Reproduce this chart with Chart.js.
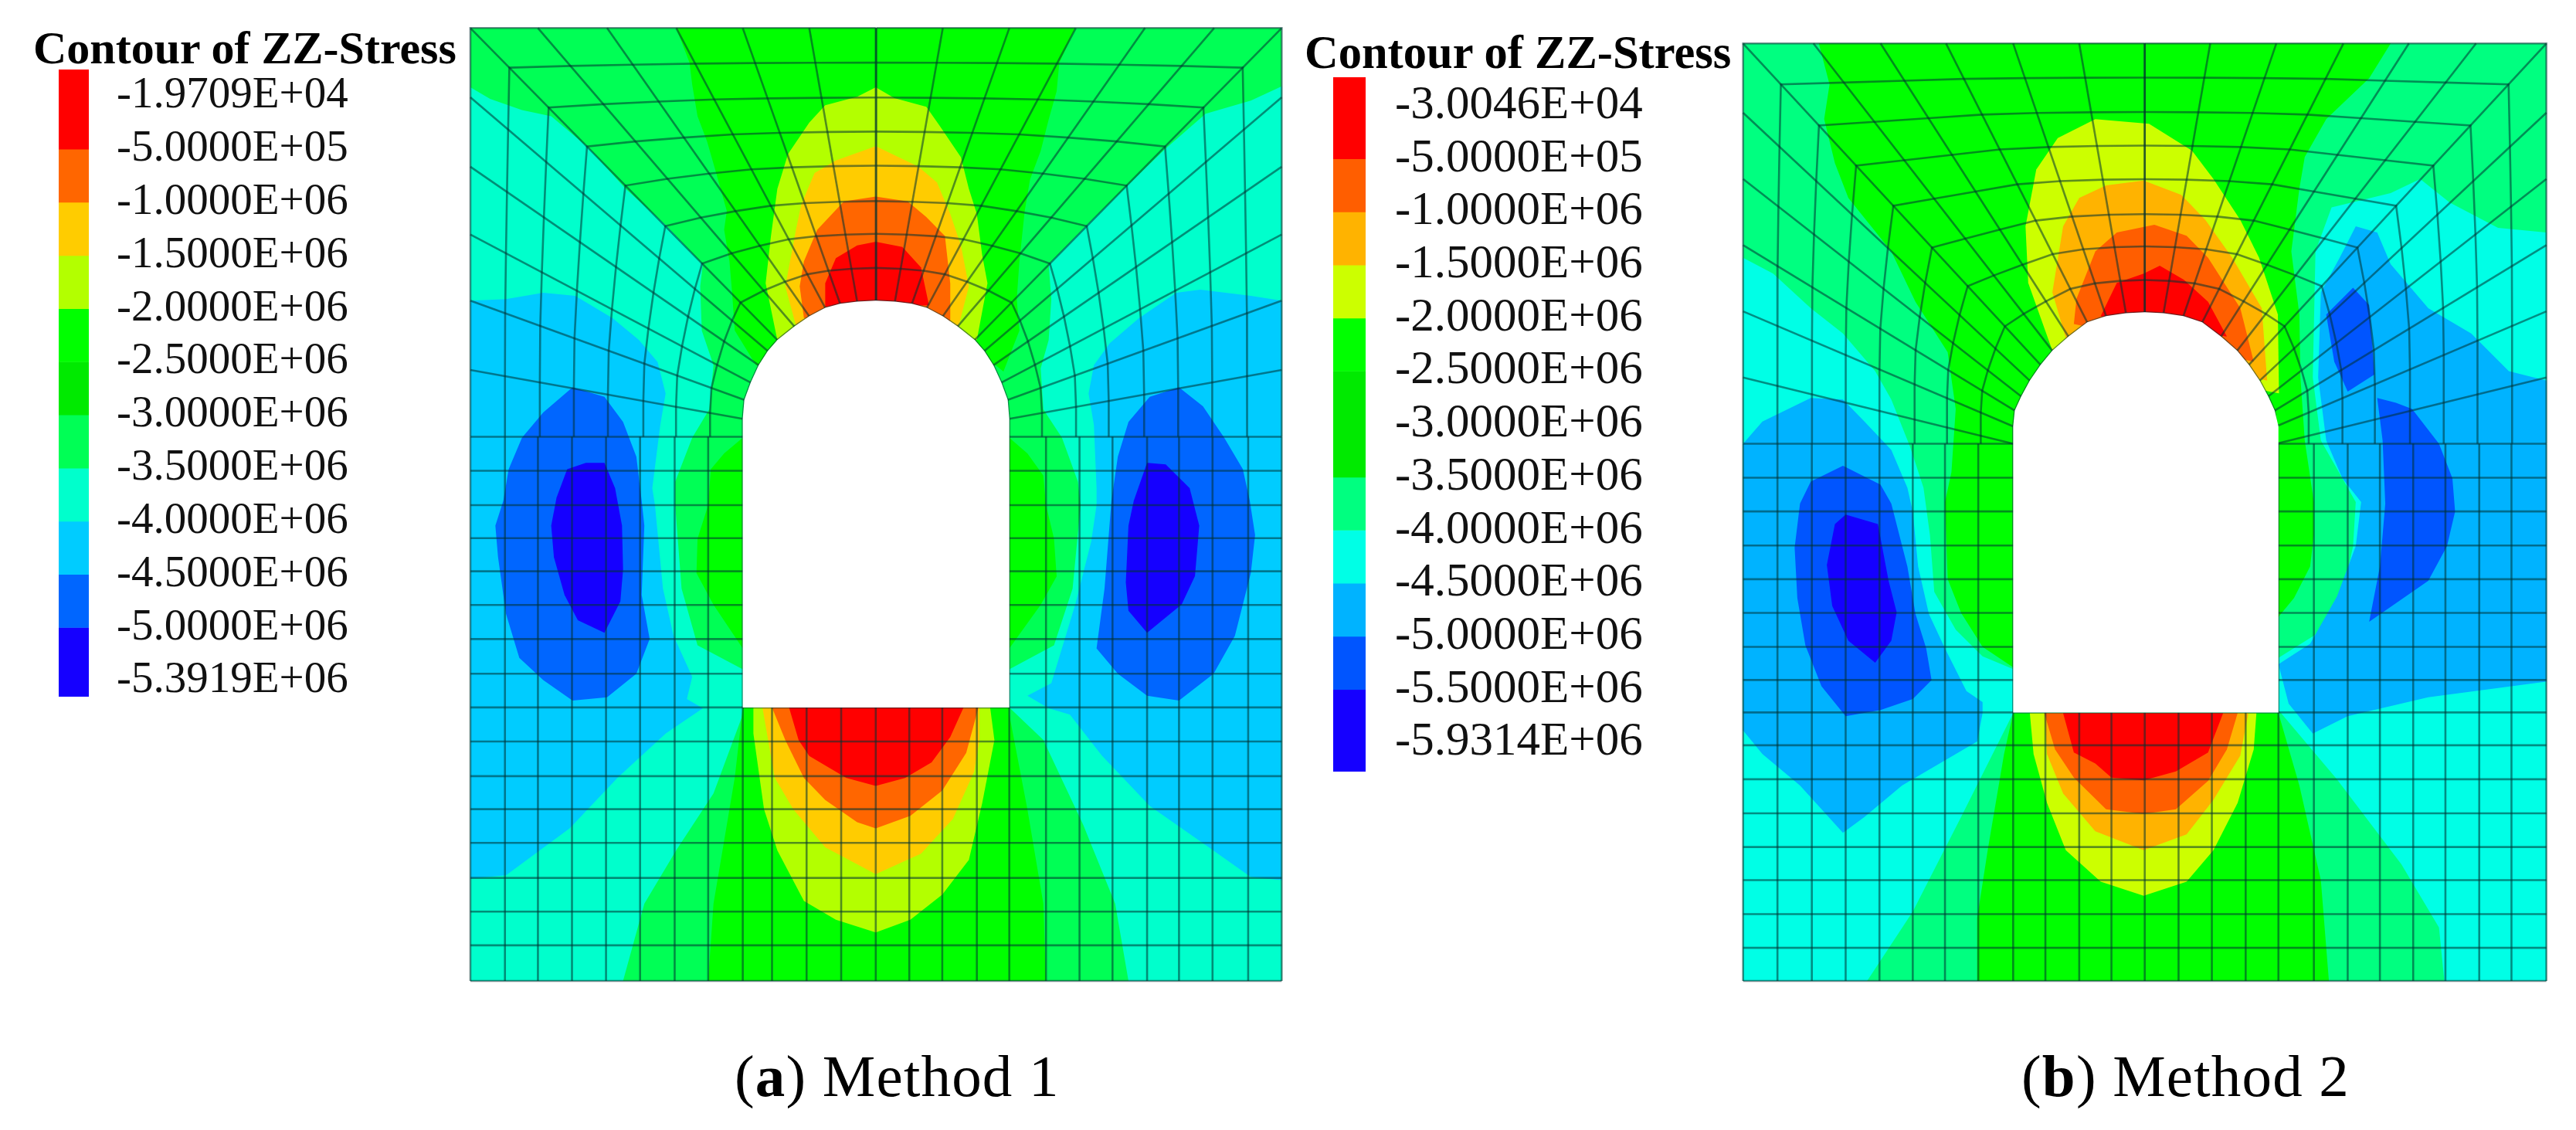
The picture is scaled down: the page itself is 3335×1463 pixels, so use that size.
<!DOCTYPE html>
<html>
<head>
<meta charset="utf-8">
<title>Contour of ZZ-Stress</title>
<script src="https://cdn.jsdelivr.net/npm/chart.js@4"></script>
<style>
html, body { margin: 0; padding: 0; background: #fff; }
body { position: relative; width: 3335px; height: 1463px; overflow: hidden; font-family: "Liberation Serif", serif; color: #000; }
canvas, .txt { position: absolute; }
.txt { line-height: 1; white-space: nowrap; }
#panelA { left: 600px; top: 20px; }
#panelB { left: 2240px; top: 40px; }
#legendA { left: 76px; top: 90px; }
#legendB { left: 1726px; top: 100px; }
.legendTitle { font-weight: bold; }
#titleA { left: 43px; top: 32px; font-size: 60px; }
#titleB { left: 1689px; top: 38px; font-size: 60.5px; }
.caption { font-size: 77px; letter-spacing: 1.2px; }
#capA { left: 951px; top: 1355px; }
#capB { left: 2617px; top: 1355px; }
</style>
</head>
<body>
<div class="txt legendTitle" id="titleA">Contour of ZZ-Stress</div>
<div class="txt legendTitle" id="titleB">Contour of ZZ-Stress</div>
<canvas id="legendA" width="400" height="812"></canvas>
<canvas id="legendB" width="420" height="899"></canvas>
<canvas id="panelA" width="1080" height="1270"></canvas>
<canvas id="panelB" width="1090" height="1250"></canvas>
<div class="txt caption" id="capA">(<b>a</b>) Method 1</div>
<div class="txt caption" id="capB">(<b>b</b>) Method 2</div>
<script>
// legend tick labels
const labelsA = ['-1.9709E+04', '-5.0000E+05', '-1.0000E+06', '-1.5000E+06', '-2.0000E+06', '-2.5000E+06',
    '-3.0000E+06', '-3.5000E+06', '-4.0000E+06', '-4.5000E+06', '-5.0000E+06', '-5.3919E+06'];
const labelsB = ['-3.0046E+04', '-5.0000E+05', '-1.0000E+06', '-1.5000E+06', '-2.0000E+06', '-2.5000E+06',
    '-3.0000E+06', '-3.5000E+06', '-4.0000E+06', '-4.5000E+06', '-5.0000E+06', '-5.5000E+06', '-5.9314E+06'];

// legend cell edges, counted in label rows
const cellEdgesA = [-0.5, 1, 2, 3, 4, 5, 6, 7, 8, 9, 10, 11.3];
const cellEdgesB = [-0.54, 1, 2, 3, 4, 5, 7, 8, 9, 10, 11, 12.55];
const cellColorsA = ['#ff0000', '#ff6600', '#ffcc00', '#b3ff00', '#00ff00', '#00ea00', '#00ff55', '#00ffcc', '#00ccff', '#0066ff', '#1500ff'];
const cellColorsB = ['#ff0000', '#ff5e00', '#ffb300', '#ccff00', '#00ff00', '#00ea00', '#00ff80', '#00ffe6', '#00b3ff', '#0055ff', '#1500ff'];

// mesh of panel a (model units, y grows downward)
const ringFractions = [0, 0.127, 0.255, 0.38, 0.505, 0.635, 0.755, 0.88, 1];
const outerNodesA = [[775, 40], [650, 40], [525, 40], [400, 40], [270, 40], [140, 40], [13, 40], [13, 260], [13, 480], [13, 695], [13, 905], [13, 1125], [13, 1337]];
const archNodesA = [[775, 905], [740, 908], [708, 915], [680, 928], [650, 955], [622, 987], [590, 1030], [572, 1065], [555, 1110], [540, 1165], [528, 1220], [525, 1280], [525, 1337]];
const sideColsA = [13, 78, 140, 204, 268, 332, 397, 460, 525, 1026, 1095, 1158, 1220, 1285, 1345, 1408, 1475, 1538];
const floorColsA = [580, 645, 710, 775, 838, 900, 965];
const rowsA = [1337, 1445, 1554, 1659, 1764, 1871, 1979, 2089, 2196, 2304, 2414, 2519, 2626, 2737, 2844, 2951, 3064];

// mesh of panel b
const outerNodesB = [[772, 40], [650, 40], [527, 40], [402, 40], [280, 40], [155, 40], [24, 40], [24, 260], [24, 470], [24, 680], [24, 890], [24, 1100], [24, 1310]];
const archNodesB = [[772, 893], [737, 896], [700, 905], [665, 925], [630, 970], [600, 1015], [578, 1060], [558, 1110], [542, 1160], [530, 1205], [527, 1255], [527, 1310], [527, 1310]];
const sideColsB = [24, 88, 152, 215, 278, 340, 400, 462, 527, 1021, 1087, 1150, 1210, 1272, 1332, 1395, 1455, 1520];
const floorColsB = [587, 650, 710, 772, 835, 897, 960];
const rowsB = [1310, 1418, 1525, 1633, 1740, 1847, 1955, 2060, 2163, 2267, 2375, 2483, 2590, 2695, 2803, 2910, 3015];

// contour bands of panel a
const frameA = [[13, 40], [1538, 40], [1538, 3064], [13, 3064]];
const tunnelA = [[775, 905], [740, 908], [708, 915], [680, 928], [650, 955], [622, 987], [590, 1030], [572, 1065], [555, 1110], [540, 1165], [528, 1220], [525, 1280], [525, 2196], [1026, 2196], [1026, 1280], [1023, 1220], [1011, 1165], [996, 1110], [979, 1065], [961, 1030], [929, 987], [901, 955], [871, 928], [843, 915], [811, 908]];
const aquaLeftA = [[13, 228], [50, 265], [110, 300], [165, 320], [235, 420], [305, 550], [380, 665], [450, 790], [445, 860], [448, 1000], [470, 1110], [462, 1250], [430, 1340], [398, 1480], [398, 1554], [410, 1819], [440, 1999], [525, 2075], [525, 2219], [470, 2469], [400, 2649], [340, 2819], [300, 3064], [13, 3064]];
const aquaRightA = [[1538, 225], [1480, 270], [1395, 312], [1318, 425], [1245, 545], [1172, 665], [1100, 790], [1105, 900], [1100, 1030], [1085, 1120], [1090, 1250], [1125, 1340], [1155, 1480], [1160, 1554], [1145, 1819], [1110, 1999], [1026, 2075], [1026, 2196], [1090, 2299], [1165, 2569], [1225, 2819], [1250, 3064], [1538, 3064]];
const skyLeftA = [[13, 905], [80, 900], [150, 880], [210, 890], [280, 960], [330, 1030], [365, 1100], [380, 1200], [370, 1300], [355, 1500], [360, 1554], [375, 1819], [395, 1969], [430, 2099], [420, 2169], [450, 2199], [380, 2279], [290, 2419], [200, 2579], [80, 2729], [13, 2739]];
const skyRightA = [[1538, 905], [1480, 890], [1385, 870], [1340, 880], [1270, 960], [1215, 1040], [1185, 1110], [1175, 1200], [1185, 1300], [1190, 1500], [1190, 1554], [1180, 1669], [1150, 1869], [1105, 2119], [1060, 2159], [1100, 2199], [1140, 2219], [1200, 2349], [1290, 2509], [1400, 2639], [1480, 2734], [1538, 2744]];
const blueLeftA = [[205, 1180], [265, 1210], [300, 1290], [325, 1400], [335, 1540], [340, 1619], [335, 1839], [350, 1979], [325, 2089], [270, 2164], [205, 2174], [150, 2109], [105, 2039], [80, 1899], [65, 1719], [60, 1619], [75, 1540], [85, 1440], [110, 1340], [150, 1260]];
const blueRightA = [[1345, 1180], [1290, 1210], [1250, 1290], [1230, 1400], [1218, 1540], [1205, 1819], [1190, 2009], [1230, 2089], [1285, 2159], [1345, 2174], [1410, 2089], [1450, 1969], [1480, 1769], [1488, 1649], [1478, 1540], [1465, 1440], [1430, 1340], [1390, 1240]];
const deepLeftA = [[230, 1420], [265, 1420], [285, 1500], [298, 1619], [300, 1759], [295, 1859], [265, 1959], [215, 1919], [190, 1839], [170, 1719], [165, 1619], [175, 1530], [195, 1440]];
const deepRightA = [[1285, 1420], [1320, 1425], [1365, 1500], [1383, 1619], [1375, 1779], [1350, 1869], [1285, 1959], [1250, 1889], [1245, 1799], [1250, 1619], [1260, 1540]];
const greenTopA = [[400, 40], [425, 150], [430, 220], [440, 320], [458, 400], [475, 500], [495, 620], [490, 680], [500, 780], [505, 880], [510, 1000], [550, 1110], [1000, 1110], [1015, 1130], [1045, 1000], [1040, 900], [1045, 780], [1055, 620], [1065, 520], [1085, 430], [1100, 330], [1115, 240], [1120, 150], [1150, 40]];
const greenWallLeftA = [[525, 1340], [490, 1390], [465, 1440], [460, 1554], [440, 1660], [438, 1770], [470, 1870], [525, 2009]];
const greenWallRightA = [[1026, 1340], [1060, 1390], [1090, 1460], [1095, 1554], [1110, 1660], [1115, 1780], [1085, 1870], [1026, 2009]];
const limeTopA = [[775, 228], [810, 262], [870, 290], [895, 350], [935, 450], [950, 550], [965, 630], [975, 760], [985, 850], [965, 1030], [590, 1030], [568, 850], [578, 700], [590, 550], [610, 440], [650, 340], [680, 285], [740, 258]];
const goldTopA = [[775, 415], [855, 480], [890, 530], [915, 630], [935, 730], [950, 860], [930, 990], [625, 985], [605, 860], [625, 680], [635, 600], [660, 500], [700, 460]];
const orangeTopA = [[775, 575], [835, 590], [870, 640], [905, 700], [915, 850], [915, 970], [640, 960], [632, 860], [640, 780], [665, 680], [715, 590]];
const redTopA = [[775, 718], [825, 735], [860, 800], [875, 920], [680, 925], [680, 850], [700, 770], [740, 730]];
const greenFloorA = [[525, 2196], [510, 2419], [490, 2619], [470, 2819], [460, 3064], [1095, 3064], [1090, 2819], [1060, 2519], [1026, 2219], [1026, 2196]];
const limeFloorA = [[545, 2196], [545, 2279], [565, 2519], [590, 2650], [640, 2810], [700, 2870], [775, 2910], [840, 2870], [900, 2790], [950, 2680], [975, 2500], [998, 2300], [990, 2196]];
const goldFloorA = [[562, 2196], [585, 2419], [620, 2519], [680, 2640], [775, 2725], [860, 2660], [920, 2550], [960, 2400], [970, 2300], [970, 2196]];
const orangeFloorA = [[580, 2196], [605, 2300], [640, 2420], [680, 2490], [740, 2560], [775, 2580], [840, 2540], [900, 2460], [945, 2340], [968, 2196]];
const redFloorA = [[612, 2196], [630, 2300], [650, 2350], [680, 2380], [720, 2420], [775, 2445], [830, 2420], [880, 2370], [915, 2290], [940, 2196]];

// contour bands of panel b
const frameB = [[24, 40], [1520, 40], [1520, 3015], [24, 3015]];
const tunnelB = [[772, 893], [737, 896], [700, 905], [665, 925], [630, 970], [600, 1015], [578, 1060], [558, 1110], [542, 1160], [530, 1205], [527, 1255], [527, 2163], [1021, 2163], [1021, 1255], [1014, 1205], [1002, 1160], [986, 1110], [966, 1060], [944, 1015], [914, 970], [879, 925], [844, 905], [807, 896]];
const aquaLeftB = [[24, 720], [80, 770], [150, 880], [210, 960], [270, 1080], [300, 1170], [335, 1320], [360, 1450], [372, 1600], [380, 1780], [420, 1900], [470, 1985], [527, 2025], [527, 2165], [430, 2495], [340, 2795], [255, 3015], [24, 3015]];
const aquaRightB = [[1520, 640], [1430, 625], [1340, 545], [1285, 470], [1230, 515], [1120, 560], [1090, 700], [1085, 1100], [1100, 1300], [1140, 1420], [1165, 1495], [1160, 1635], [1140, 1795], [1110, 1895], [1021, 1990], [1021, 2155], [1130, 2375], [1250, 2645], [1320, 2845], [1330, 3015], [1520, 3015]];
const skyLeftB = [[24, 1310], [60, 1240], [150, 1165], [210, 1170], [250, 1240], [300, 1330], [330, 1450], [340, 1525], [350, 1700], [370, 1850], [400, 1960], [440, 2095], [470, 2130], [470, 2165], [460, 2255], [320, 2395], [250, 2495], [210, 2545], [130, 2395], [60, 2295], [24, 2220]];
const skyRightB = [[1165, 620], [1205, 640], [1230, 740], [1300, 880], [1380, 960], [1450, 1080], [1520, 1110], [1520, 2065], [1300, 2115], [1150, 2175], [1085, 2230], [1040, 2135], [1021, 2010], [1080, 1945], [1130, 1795], [1165, 1635], [1175, 1495], [1140, 1420], [1110, 1300], [1095, 1100], [1100, 830], [1135, 720]];
const blueLeftB = [[210, 1380], [280, 1440], [300, 1500], [330, 1700], [345, 1850], [365, 1960], [375, 2060], [340, 2120], [280, 2155], [215, 2175], [170, 2080], [140, 1950], [125, 1800], [120, 1640], [130, 1500], [150, 1430]];
const bluePatchB = [[1160, 815], [1190, 870], [1200, 1090], [1150, 1145], [1125, 1050], [1110, 900]];
const blueRightB = [[1240, 1180], [1270, 1200], [1320, 1310], [1345, 1420], [1350, 1525], [1335, 1635], [1300, 1745], [1190, 1875], [1210, 1700], [1220, 1500], [1215, 1300], [1205, 1165]];
const deepLeftB = [[215, 1535], [275, 1565], [295, 1745], [310, 1845], [300, 1935], [270, 2005], [220, 1935], [190, 1825], [180, 1695], [195, 1565]];
const greenTopB = [[165, 40], [185, 170], [175, 280], [195, 420], [220, 530], [300, 700], [345, 860], [405, 1020], [420, 1200], [412, 1400], [400, 1495], [405, 1740], [430, 1847], [470, 1955], [527, 2020], [1021, 1860], [1050, 1800], [1080, 1700], [1087, 1600], [1087, 1495], [1070, 1300], [1062, 1100], [1060, 900], [1045, 700], [1060, 500], [1070, 400], [1110, 280], [1190, 150], [1230, 40]];
const limeTopB = [[680, 280], [780, 295], [860, 380], [900, 470], [950, 600], [985, 720], [1020, 900], [1022, 1150], [600, 1015], [555, 800], [550, 620], [570, 440], [610, 340]];
const goldTopB = [[770, 475], [840, 520], [885, 600], [935, 720], [990, 880], [1000, 1110], [625, 975], [600, 830], [620, 620], [650, 530], [700, 490]];
const orangeTopB = [[790, 615], [850, 650], [890, 720], [950, 880], [975, 1050], [640, 930], [645, 850], [680, 700], [720, 640]];
const redTopB = [[800, 745], [845, 790], [890, 860], [925, 970], [690, 905], [720, 800], [770, 770]];
const greenFloorB = [[527, 2165], [510, 2295], [480, 2595], [460, 2815], [460, 3015], [1115, 3015], [1100, 2695], [1060, 2395], [1021, 2165]];
const limeFloorB = [[558, 2165], [565, 2295], [590, 2450], [625, 2600], [690, 2700], [770, 2745], [850, 2700], [900, 2600], [945, 2450], [975, 2280], [980, 2165]];
const goldFloorB = [[585, 2165], [590, 2295], [620, 2420], [680, 2540], [770, 2600], [850, 2550], [900, 2440], [950, 2300], [965, 2165]];
const orangeFloorB = [[585, 2165], [605, 2280], [640, 2370], [700, 2470], [770, 2485], [830, 2470], [890, 2380], [925, 2280], [945, 2165]];
const redFloorB = [[620, 2165], [640, 2290], [680, 2325], [710, 2370], [770, 2378], [830, 2350], [890, 2290], [918, 2165]];

const SERIF = '"Liberation Serif", serif';
const MESH_COLOR = 'rgba(0, 50, 50, 0.55)';

const pts = arr => arr.map(p => ({ x: p[0], y: p[1] }));

function band(points, color) {
    return { data: pts(points), showLine: false, pointRadius: 0, bandColor: color };
}

function meshLine(points) {
    return { data: pts(points), showLine: true, pointRadius: 0, borderColor: MESH_COLOR, borderWidth: 2.6, fill: false, tension: 0 };
}

// O-grid round the arch + regular grid below it
function meshDatasets(outer, arch, centre, sideCols, floorCols, rows) {
    const lines = [];
    const flip = p => [centre * 2 - p[0], p[1]];
    const at = (a, b, f) => [a[0] + (b[0] - a[0]) * f, a[1] + (b[1] - a[1]) * f];

    [false, true].forEach(mirror => {
        const o = mirror ? outer.map(flip) : outer;
        const a = mirror ? arch.map(flip) : arch;
        // last spoke lies on the first grid row, which is drawn below
        o.slice(0, -1).forEach((p, i) => lines.push(meshLine([p, a[i]])));
        ringFractions.forEach(f => lines.push(meshLine(o.map((p, i) => at(p, a[i], f)))));
    });

    const top = rows[0], bottom = rows[rows.length - 1];
    const floorTop = rows[8];
    sideCols.forEach(x => lines.push(meshLine([[x, top], [x, bottom]])));
    floorCols.forEach(x => lines.push(meshLine([[x, floorTop], [x, bottom]])));
    rows.forEach(y => lines.push(meshLine([[sideCols[0], y], [sideCols[sideCols.length - 1], y]])));
    return lines;
}

// fills the closed outline of a dataset from the points the scales placed
const bandFill = {
    id: 'bandFill',
    beforeDatasetDraw(chart, args) {
        const ds = chart.data.datasets[args.index];
        if (!ds.bandColor) return;
        const points = args.meta.data;
        const ctx = chart.ctx;
        ctx.save();
        ctx.beginPath();
        points.forEach((p, i) => i ? ctx.lineTo(p.x, p.y) : ctx.moveTo(p.x, p.y));
        ctx.closePath();
        ctx.fillStyle = ds.bandColor;
        ctx.fill();
        ctx.restore();
    }
};

function drawPanel(id, yMax, datasets) {
    // chart.js paints the last dataset first, so flip the order
    datasets.forEach((d, i) => { d.order = -i; d.clip = false; });
    new Chart(document.getElementById(id), {
        type: 'scatter',
        data: { datasets },
        options: {
            responsive: false,
            animation: false,
            plugins: { legend: { display: false }, tooltip: { enabled: false } },
            scales: {
                x: { type: 'linear', display: false, min: 0, max: 1568 },
                y: { type: 'linear', display: false, min: 0, max: yMax, reverse: true }
            }
        },
        plugins: [bandFill]
    });
}

function drawLegend(id, labels, edges, colors, fontSize, barWidth, gap) {
    const canvas = document.getElementById(id);
    new Chart(canvas, {
        type: 'bar',
        data: {
            labels: ['stress'],
            datasets: colors.map((c, i) => ({
                data: [[edges[i], edges[i + 1]]],
                backgroundColor: c,
                grouped: false,
                barPercentage: 1,
                categoryPercentage: 1
            }))
        },
        options: {
            responsive: false,
            animation: false,
            plugins: { legend: { display: false }, tooltip: { enabled: false } },
            scales: {
                x: { display: false },
                y: {
                    type: 'linear',
                    position: 'right',
                    reverse: true,
                    min: edges[0],
                    max: edges[edges.length - 1],
                    grid: { display: false },
                    border: { display: false },
                    afterBuildTicks: s => { s.ticks = labels.map((_, i) => ({ value: i })); },
                    afterFit: s => {
                        // bar has to fill the canvas height, labels stay inside anyway
                        s.width = canvas.width - barWidth;
                        s.paddingTop = 0;
                        s.paddingBottom = 0;
                    },
                    ticks: {
                        autoSkip: false,
                        padding: gap,
                        color: '#111',
                        font: { family: SERIF, size: fontSize },
                        callback: (v, i) => labels[i]
                    }
                }
            }
        }
    });
}

drawLegend('legendA', labelsA, cellEdgesA, cellColorsA, 57, 39, 28);
drawLegend('legendB', labelsB, cellEdgesB, cellColorsB, 61, 42, 30);

const cA = cellColorsA, cB = cellColorsB;
drawPanel('panelA', 3113, [
    band(frameA, cA[6]),
    band(aquaLeftA, cA[7]), band(aquaRightA, cA[7]),
    band(skyLeftA, cA[8]), band(skyRightA, cA[8]),
    band(blueLeftA, cA[9]), band(blueRightA, cA[9]),
    band(deepLeftA, cA[10]), band(deepRightA, cA[10]),
    band(greenTopA, cA[4]), band(greenWallLeftA, cA[4]), band(greenWallRightA, cA[4]), band(greenFloorA, cA[4]),
    band(limeTopA, cA[3]), band(limeFloorA, cA[3]),
    band(goldTopA, cA[2]), band(goldFloorA, cA[2]),
    band(orangeTopA, cA[1]), band(orangeFloorA, cA[1]),
    band(redTopA, cA[0]), band(redFloorA, cA[0]),
    ...meshDatasets(outerNodesA, archNodesA, 775.5, sideColsA, floorColsA, rowsA),
    band(tunnelA, '#ffffff')
]);
drawPanel('panelB', 3064, [
    band(frameB, cB[6]),
    band(aquaLeftB, cB[7]), band(aquaRightB, cB[7]),
    band(skyLeftB, cB[8]), band(skyRightB, cB[8]),
    band(blueLeftB, cB[9]), band(bluePatchB, cB[9]), band(blueRightB, cB[9]),
    band(deepLeftB, cB[10]),
    band(greenTopB, cB[4]), band(greenFloorB, cB[4]),
    band(limeTopB, cB[3]), band(limeFloorB, cB[3]),
    band(goldTopB, cB[2]), band(goldFloorB, cB[2]),
    band(orangeTopB, cB[1]), band(orangeFloorB, cB[1]),
    band(redTopB, cB[0]), band(redFloorB, cB[0]),
    ...meshDatasets(outerNodesB, archNodesB, 772, sideColsB, floorColsB, rowsB),
    band(tunnelB, '#ffffff')
]);
</script>
</body>
</html>
